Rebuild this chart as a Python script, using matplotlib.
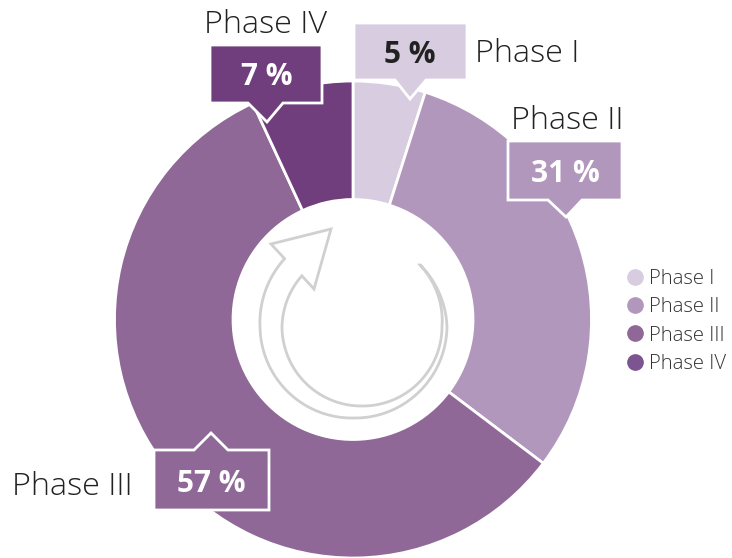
import numpy as np
import matplotlib
matplotlib.use('Agg')
import matplotlib.pyplot as plt
from matplotlib.lines import Line2D
from matplotlib.patches import Polygon

# Slice shares, printed labels are rounded
phases = ['Phase I', 'Phase II', 'Phase III', 'Phase IV']
shares = [4.9, 30.4, 57.8, 6.9]
percent_labels = ['5 %', '31 %', '57 %', '7 %']
colors = ['#d8cde0', '#b197bc', '#8f6897', '#703e7c']
legend_colors = ['#d8cde0', '#b197bc', '#8f6897', '#7c5490']

FONT = ['Open Sans', 'DejaVu Sans']
INK = '#222222'

# Callout boxes in pixel coordinates: outline, centre of the value, phase label
callouts = [
    ([(354, 23), (467, 23), (467, 80), (426, 80), (410, 99), (395, 80), (354, 80)],
     (410, 55), INK, (475, 62)),
    ([(508, 141), (622, 141), (622, 200), (582, 200), (566, 217), (548, 200), (508, 200)],
     (565, 174), 'white', (511, 129)),
    ([(154, 450), (194, 450), (211, 433), (228, 450), (269, 450), (269, 510), (154, 510)],
     (211, 484), 'white', (12, 495)),
    ([(210, 45), (322, 45), (322, 103), (283, 103), (267, 122), (248, 103), (210, 103)],
     (267, 77), 'white', (204, 33)),
]


def arc(cx, cy, angles, radii):
    # arc whose radius follows the knots, angles in degrees on screen
    a = np.linspace(angles[0], angles[-1], 120)
    order = np.argsort(angles)
    r = np.interp(a, np.array(angles)[order], np.array(radii)[order])
    a = np.radians(a)
    return np.column_stack([cx + r * np.cos(a), cy + r * np.sin(a)])


fig = plt.figure(figsize=(7.32, 5.58), dpi=100)
ax = fig.add_axes([0, 0, 1, 1])

# y axis points down, so counterclock runs clockwise on screen
ax.pie(shares, colors=colors, center=(353, 319.5), radius=238.5, startangle=-90,
       wedgeprops=dict(width=118.5, edgecolor='white', linewidth=2))

ax.set_xlim(0, 732)
ax.set_ylim(558, 0)
ax.set_aspect('equal')
ax.axis('off')

# Recycling arrow in the hole
outer = arc(353.5, 327, [224.4, 180, 90, 0, -43], [97, 93.5, 91, 93.5, 91])
inner = arc(362, 327, [-46.9, 0, 90, 180, 220.4], [85, 80, 79, 80, 79])
arrow = np.vstack([outer, inner, [(314, 289), (331, 229), (271, 244), (284, 258)]])
ax.plot(arrow[:, 0], arrow[:, 1], color='#d0d0d0', lw=2, solid_joinstyle='miter', zorder=3)

for i, (outline, value_pos, value_color, label_pos) in enumerate(callouts):
    ax.add_patch(Polygon(outline, closed=True, facecolor=colors[i], edgecolor='white',
                         linewidth=2, zorder=4))
    ax.text(value_pos[0], value_pos[1], percent_labels[i], color=value_color, ha='center',
            va='center', fontsize=21.5, fontweight='bold', family=FONT, zorder=5)
    ax.text(label_pos[0], label_pos[1], phases[i], color=INK, ha='left', va='baseline',
            fontsize=23.3, fontweight='light', family=FONT, zorder=5)

handles = [Line2D([], [], linestyle='none', marker='o', markersize=11, color=c) for c in legend_colors]
ax.legend(handles, phases, loc='center left', bbox_to_anchor=(625, 321.5),
          bbox_transform=ax.transData, frameon=False, handlelength=1, handletextpad=0.2,
          labelspacing=0.4, borderpad=0, borderaxespad=0,
          prop=dict(family=FONT, size=14.6, weight='light'), labelcolor='#333333')

fig.savefig('out.png', dpi=100)
